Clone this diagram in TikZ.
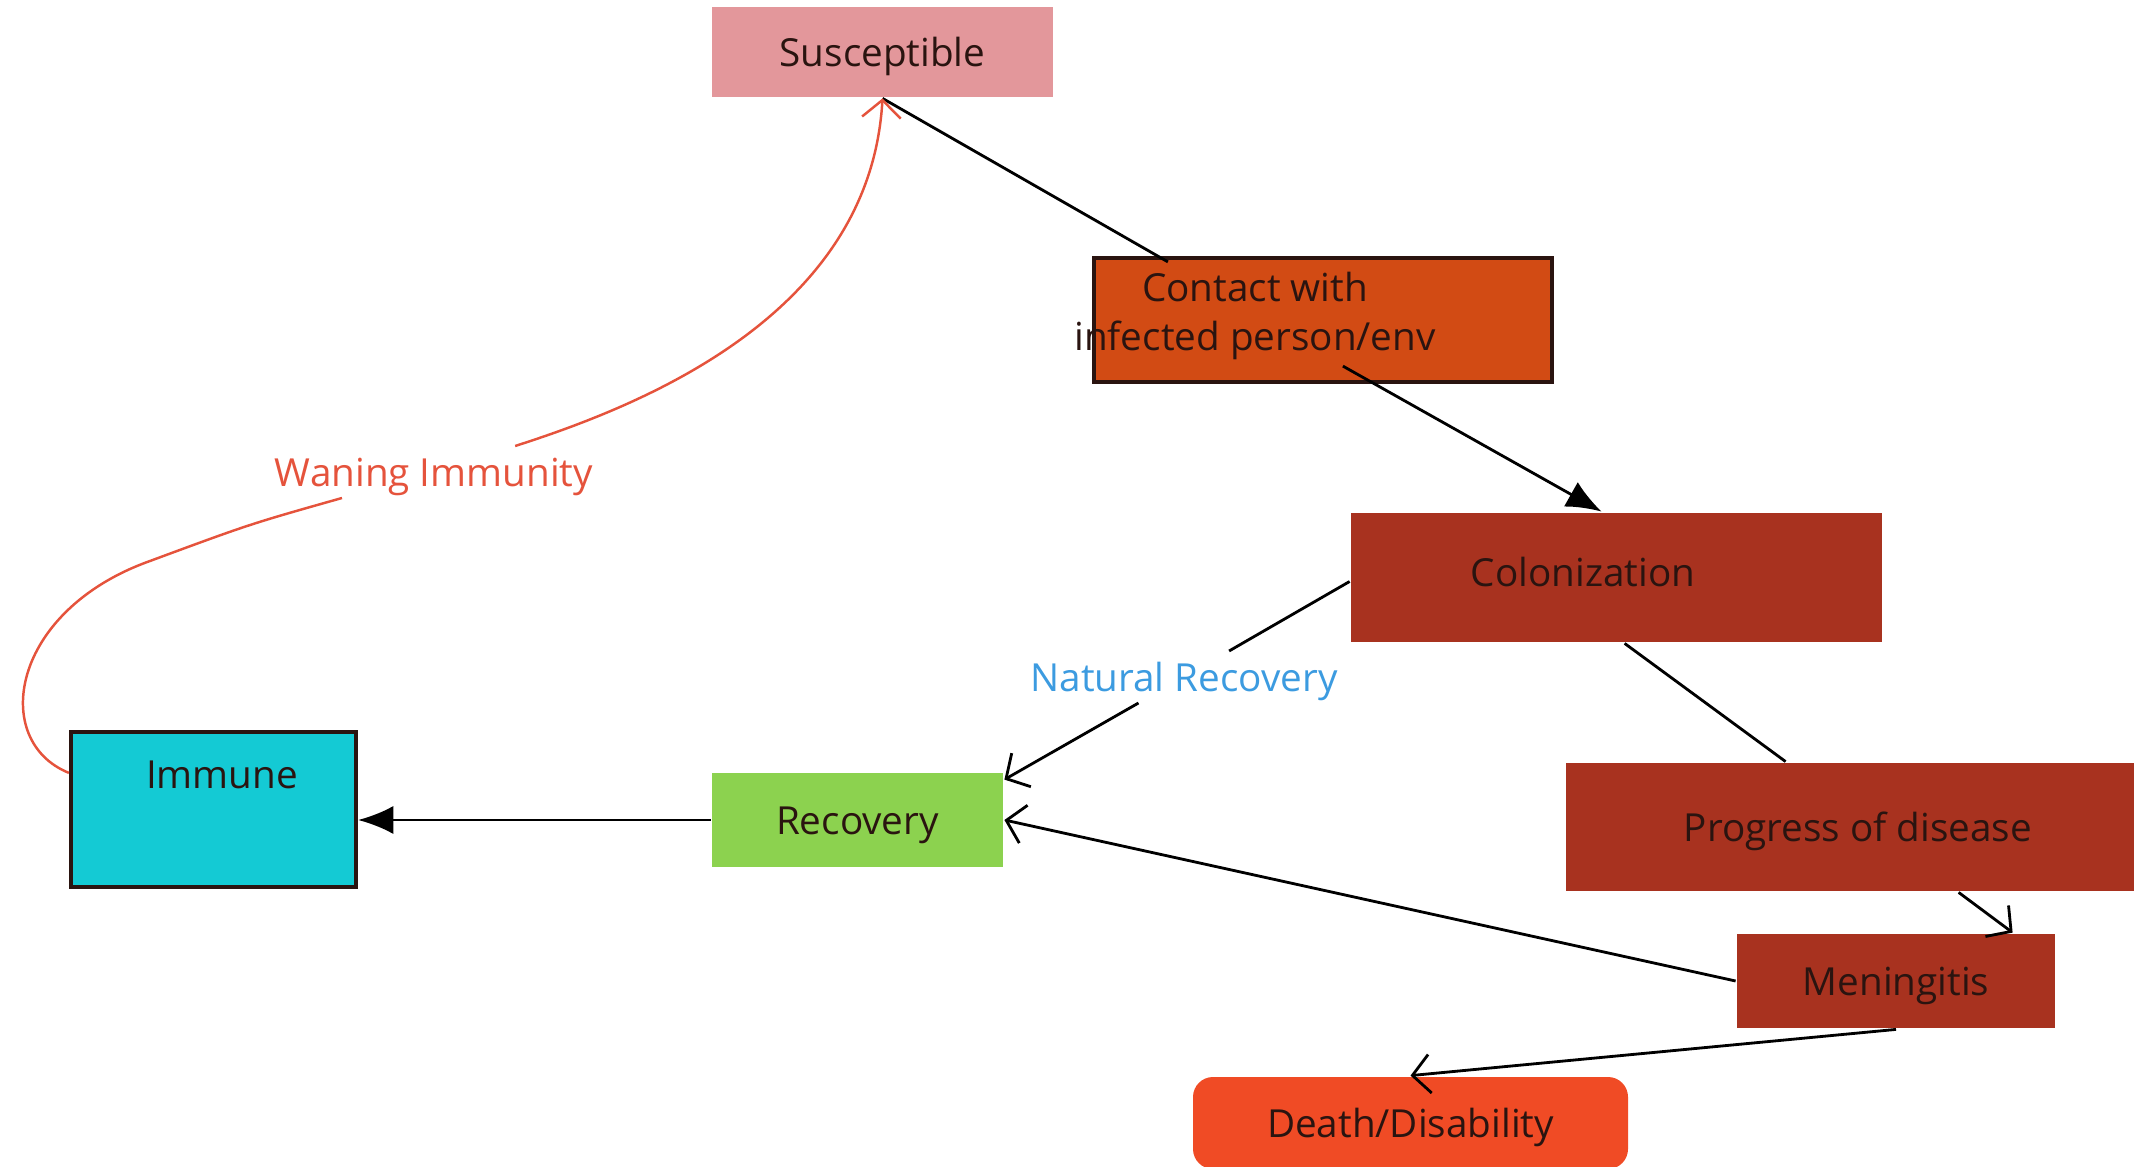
\documentclass[tikz,border=0pt]{standalone}
\usepackage{fontspec}
\setmainfont{Open Sans}
\usetikzlibrary{arrows.meta, positioning}

\definecolor{suscfill}{HTML}{E3979B}
\definecolor{contactfill}{HTML}{D24B14}
\definecolor{diseasefill}{HTML}{A8321F}
\definecolor{deathfill}{HTML}{F04B25}
\definecolor{recfill}{HTML}{8CD24F}
\definecolor{immfill}{HTML}{14CAD4}
\definecolor{ink}{HTML}{2A1410}
\definecolor{waningred}{HTML}{E5533C}
\definecolor{naturalblue}{HTML}{3C9BE0}

\tikzset{
  box/.style={inner sep=0pt, text=ink, text height=9pt, text depth=1pt},
  filledhead/.style={-{Latex[length=10pt,width=8pt]}}
}

\begin{document}
\begin{tikzpicture}[>={Straight Barb[length=5pt,width=11pt]}, font=\fontsize{11}{14}\selectfont, line width=0.8pt]
\useasboundingbox (0,0) rectangle (21.34,11.66);

\node[box, fill=suscfill, minimum width=3.41cm, minimum height=0.90cm] (susceptible) at (8.825,11.14) {Susceptible};
\node[box, fill=contactfill, draw=ink, line width=1.2pt, minimum width=4.58cm, minimum height=1.24cm] (contact) at (13.23,8.46) {};
\node[text=ink, align=center, inner sep=0pt] (contact-text) at ([xshift=-0.68cm, yshift=0.04cm]contact.center) {Contact with\\infected person/env};
\node[box, fill=diseasefill, minimum width=5.31cm, minimum height=1.29cm] (colonization) at (16.165,5.885) {};
\node[box] (colonization-text) at ([xshift=-0.335cm, yshift=0.055cm]colonization.center) {Colonization};
\node[box, fill=diseasefill, minimum width=5.84cm, minimum height=1.28cm] (progress) at (18.58,3.39) {Progress of disease};
\node[box, fill=diseasefill, minimum width=3.18cm, minimum height=0.94cm] (meningitis) at (18.96,1.85) {Meningitis};
\node[box, fill=deathfill, rounded corners=0.2cm, minimum width=4.35cm, minimum height=0.92cm] (death) at (14.105,0.43) {Death/Disability};
\node[box, fill=recfill, minimum width=2.91cm, minimum height=0.94cm] (recovery) at (8.575,3.46) {Recovery};
\node[box, fill=immfill, draw=ink, line width=1.2pt, minimum width=2.85cm, minimum height=1.55cm] (immune) at (2.135,3.565) {};
\node[box] (immune-text) at ([xshift=0.085cm, yshift=0.355cm]immune.center) {Immune};

% edge labels
\node[text=naturalblue, inner sep=2pt, text height=9pt, text depth=1pt] (nat-rec) at (11.84,4.89) {Natural Recovery};
\node[text=waningred, inner sep=2pt, text height=9pt, text depth=1pt] (waning) at (4.34,6.94) {Waning Immunity};

% draw wires
\draw (susceptible.south) -- ([xshift=0.76cm, yshift=-0.06cm]contact.north west);
\draw[filledhead] ([xshift=2.51cm, yshift=0.18cm]contact.south west) -- ([xshift=2.52cm]colonization.north west);
\draw[->] ([yshift=-0.04cm]colonization.west) -- (nat-rec) -- ([yshift=-0.08cm]recovery.north east);
\draw ([xshift=2.75cm]colonization.south west) -- ([xshift=2.21cm]progress.north west);
\draw[->] ([xshift=3.94cm]progress.south west) -- ([xshift=2.77cm]meningitis.north west);
\draw[->] (meningitis.west) -- (recovery.east);
\draw[->] (meningitis.south) -- (death.north);
\draw[filledhead] (recovery.west) -- (recovery.west -| immune.east);

% waning curve back to the top
\draw[->, waningred, line width=0.7pt] ([yshift=-0.43cm]immune.north west) .. controls (-0.1,4.25) and (0.1,5.55) .. (1.5,6.05)
  .. controls (2.5,6.42) .. (waning) .. controls (6.4,7.6) and (8.7,8.5) .. (susceptible.south);
\end{tikzpicture}
\end{document}
